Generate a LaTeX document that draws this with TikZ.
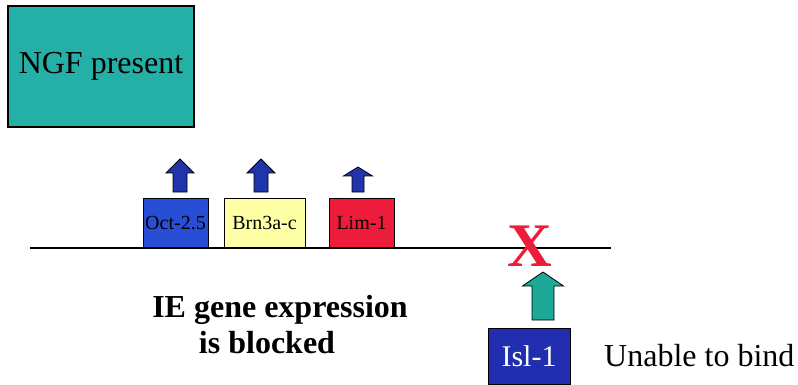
\documentclass[tikz,border=0pt]{standalone}
\usepackage{fontspec}
\setmainfont{Liberation Serif}
\usepackage{tikz}
\usetikzlibrary{positioning}
\usepackage{xcolor}
\definecolor{cNgf}{RGB}{36,176,166}
\definecolor{cOct}{RGB}{40,78,214}
\definecolor{cBrn}{RGB}{255,255,165}
\definecolor{cLim}{RGB}{236,28,58}
\definecolor{cIsl}{RGB}{34,46,176}
\definecolor{cUp}{RGB}{32,52,172}
\definecolor{cBind}{RGB}{30,168,152}

% block arrow pointing up: fill, x, top, head end, bottom, half head, half shaft
\newcommand{\uparrowbox}[7]{%
  \draw[fill=#1, draw=black, line width=0.8pt, line join=miter]
    (#2,#3) -- ({#2+#6},#4) -- ({#2+#7},#4) -- ({#2+#7},#5)
    -- ({#2-#7},#5) -- ({#2-#7},#4) -- ({#2-#6},#4) -- cycle;
}

\tikzset{
  genebox/.style={draw=black, line width=1pt, inner sep=0pt,
    minimum height=49pt, font=\fontsize{20}{22}\selectfont}
}

\begin{document}
\begin{tikzpicture}[x=1pt, y=-1pt]
\useasboundingbox (0,0) rectangle (798,385);

\node[draw=black, line width=1.2pt, fill=cNgf, minimum width=186pt,
      minimum height=121pt, font=\fontsize{32}{34}\selectfont]
  (ngf) at (101,66.5) {NGF present};

% promoter line
\coordinate (dnaL) at (30,248);
\coordinate (dnaR) at (611,248);
\draw[line width=1.2pt] (dnaL) -- (dnaR);

\foreach \x/\w/\c/\n/\l in {175.5/65/cOct/oct/Oct-2.5,
                            264.5/81/cBrn/brn/Brn3a-c,
                            361.5/65/cLim/lim/Lim-1} {
  \node[genebox, fill=\c, minimum width=\w pt, anchor=south]
    (\n) at (\x,248) {\l};
}

\uparrowbox{cUp}{180}{159}{173}{192}{14}{7}
\uparrowbox{cUp}{261}{159}{173}{192}{14}{7}
\uparrowbox{cUp}{358}{167}{176}{192}{14.5}{6}

\node[text=cLim, font=\fontsize{62}{62}\selectfont\bfseries, inner sep=0pt]
  (block) at (530,246) {X};

\node[draw=black, line width=1pt, fill=cIsl, text=white, minimum width=82pt,
      minimum height=56pt, inner sep=0pt, font=\fontsize{30}{32}\selectfont]
  (isl) at (529,356) {Isl-1};
\uparrowbox{cBind}{543}{272}{286}{320}{20.5}{11}

\node[anchor=west, font=\fontsize{32}{34}\selectfont, inner sep=0pt]
  (unable) at (604,356) {Unable to bind};

\node[font=\fontsize{32}{34}\selectfont\bfseries, inner sep=0pt]
  (ie) at (280,310) {IE gene expression};
\node[font=\fontsize{32}{34}\selectfont\bfseries, inner sep=0pt]
  (blocked) at (267,343) {is blocked};
\end{tikzpicture}
\end{document}
